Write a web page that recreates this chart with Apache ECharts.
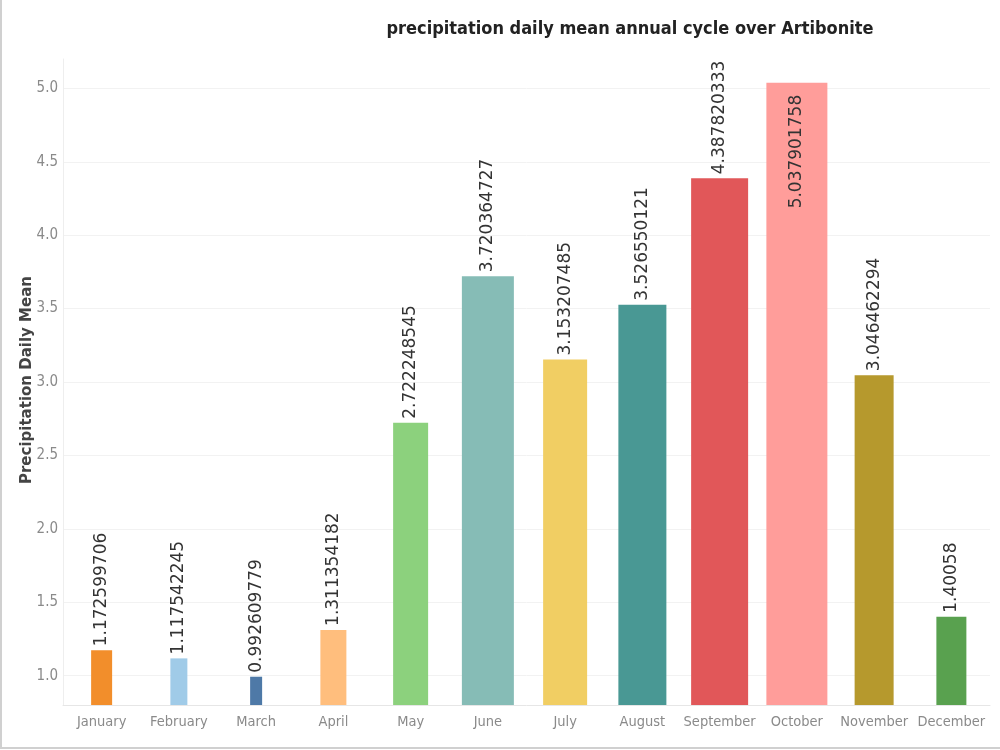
<!DOCTYPE html>
<html>
<head>
<meta charset="utf-8">
<script src="https://cdn.jsdelivr.net/npm/echarts@6/dist/echarts.min.js"></script>
<style>
  html, body { margin: 0; padding: 0; background: #fff; }
  #chart { width: 1000px; height: 750px; }
</style>
</head>
<body>
<div id="chart"></div>
<script>
const months = [
  "January", "February", "March", "April", "May", "June",
  "July", "August", "September", "October", "November", "December",
];
const precipMeans = [
  1.172599706, 1.117542245, 0.992609779, 1.311354182, 2.722248545, 3.720364727,
  3.153207485, 3.526550121, 4.387820333, 5.037901758, 3.046462294, 1.40058,
];
const yTicks = { min: 0.8, max: 5.2 };

// bar look, per month (the reference varies bar thickness)
const barWidths = [21, 17, 12, 26, 35, 52, 44, 48, 57, 61, 39, 30];
const barColors = [
  "#F28E2B", "#A0CBE8", "#4E79A7", "#FFBE7D", "#8CD17D", "#86BCB6",
  "#F1CE63", "#499894", "#E15759", "#FF9D9A", "#B6992D", "#59A14F",
];

const narrowFont = "'DejaVu Sans Condensed', 'Liberation Sans Narrow', sans-serif";
const labelLen = 118;

const chart = echarts.init(document.getElementById("chart"));

const renderBar = (params, api) => {
  const i = api.value(0);
  const v = api.value(1);
  const top = api.coord([i, v]);
  const base = api.coord([i, yTicks.min]);
  const w = barWidths[i];
  // label goes inside the bar when it would run off the top of the chart
  const inside = top[1] - labelLen < params.coordSys.y - 20;
  return {
    type: "group",
    children: [
      {
        type: "rect",
        shape: { x: top[0] - w / 2, y: top[1], width: w, height: base[1] - top[1] },
        style: { fill: barColors[i] },
      },
      {
        type: "text",
        x: top[0],
        y: inside ? top[1] + 12 : top[1] - 4,
        rotation: Math.PI / 2,
        style: {
          text: String(precipMeans[i]),
          align: inside ? "right" : "left",
          verticalAlign: "middle",
          fill: "#333",
          font: "17px 'DejaVu Sans', sans-serif",
        },
      },
    ],
  };
};

chart.setOption({
  animation: false,
  backgroundColor: "#fff",
  title: {
    text: "precipitation daily mean annual cycle over Artibonite",
    left: 625,
    top: 15,
    textAlign: "center",
    textStyle: {
      fontFamily: narrowFont,
      fontWeight: "bold",
      fontSize: 18,
      color: "#222",
    },
  },
  grid: { left: 63, right: 10, top: 59, bottom: 45 },
  xAxis: {
    type: "category",
    data: months,
    axisLine: { lineStyle: { color: "#e6e6e6" } },
    axisTick: { show: false },
    axisLabel: {
      interval: 0,
      color: "#8a8a8a",
      fontFamily: narrowFont,
      fontSize: 14.5,
      margin: 10,
    },
  },
  yAxis: {
    type: "value",
    min: yTicks.min,
    max: yTicks.max,
    splitNumber: 9,
    axisLine: { show: true, lineStyle: { color: "#eeeeee" } },
    axisTick: { show: false },
    axisLabel: {
      color: "#8a8a8a",
      fontFamily: narrowFont,
      fontSize: 15,
      margin: 5,
      showMinLabel: false,
      showMaxLabel: false,
      formatter: (v) => v.toFixed(1),
    },
    splitLine: { showMinLine: false, showMaxLine: false, lineStyle: { color: "#f2f2f2" } },
  },
  graphic: [
    { type: "line", shape: { x1: 1, y1: 0, x2: 1, y2: 748 }, style: { stroke: "#d0d0d0", lineWidth: 2 } },
    { type: "line", shape: { x1: 0, y1: 748, x2: 1000, y2: 748 }, style: { stroke: "#d0d0d0", lineWidth: 2 } },
    {
      type: "text",
      x: 27,
      y: 380,
      rotation: Math.PI / 2,
      style: {
        text: "Precipitation Daily Mean",
        align: "center",
        verticalAlign: "middle",
        fill: "#444",
        font: "bold 15px 'DejaVu Sans', sans-serif",
      },
    },
  ],
  series: [
    {
      type: "custom",
      renderItem: renderBar,
      data: precipMeans.map((v, i) => [i, v]),
      encode: { x: 0, y: 1 },
    },
  ],
});
</script>
</body>
</html>
